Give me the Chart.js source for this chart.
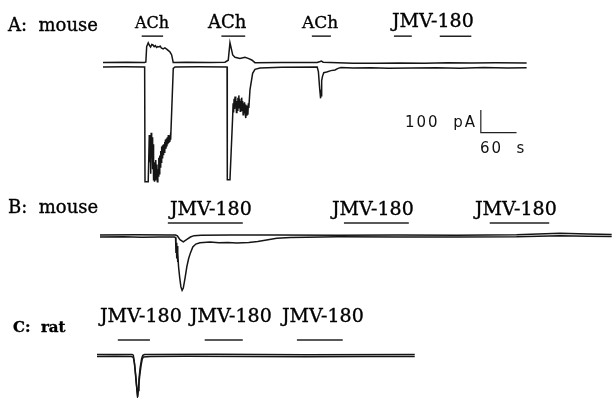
<!DOCTYPE html>
<html lang="en">
<head>
  <meta charset="UTF-8">
  <title>JMV-180 / ACh currents</title>
  <style>
    html, body {
      margin: 0;
      padding: 0;
      background: #fff;
    }
    #wrap {
      position: relative;
      width: 612px;
      height: 398px;
    }
    #chart {
      position: absolute;
      left: 0;
      top: 0;
    }
    .lbl {
      position: absolute;
      font-family: "DejaVu Serif", serif;
      color: #000;
      white-space: pre;
      line-height: 1;
      -webkit-text-stroke: 0.35px #000;
    }
    .sans {
      font-family: "DejaVu Sans", sans-serif;
      letter-spacing: 2px;
      -webkit-text-stroke: 0;
      color: #111;
    }
  </style>
  <script src="https://cdn.jsdelivr.net/npm/chart.js"></script>
</head>
<body>
  <div id="wrap">
    <canvas id="chart" width="612" height="398"></canvas>

    <div class="lbl" style="left:8px; top:16px; font-size:18px;">A:  mouse</div>
    <div class="lbl" style="left:135px; top:14.5px; font-size:16px;">ACh</div>
    <div class="lbl" style="left:208px; top:12.8px; font-size:18px;">ACh</div>
    <div class="lbl" style="left:302px; top:13.6px; font-size:17px;">ACh</div>
    <div class="lbl" style="left:392px; top:10.9px; font-size:19px;">JMV-180</div>
    <div class="lbl sans" style="left:405px; top:115.3px; font-size:15px;">100  pA</div>
    <div class="lbl sans" style="left:480px; top:141.3px; font-size:15px;">60  s</div>

    <div class="lbl" style="left:8px; top:198px; font-size:18px;">B:  mouse</div>
    <div class="lbl" style="left:170px; top:198.9px; font-size:19px;">JMV-180</div>
    <div class="lbl" style="left:332px; top:198.9px; font-size:19px;">JMV-180</div>
    <div class="lbl" style="left:475px; top:198.9px; font-size:19px;">JMV-180</div>

    <div class="lbl" style="left:13px; top:320.3px; font-size:15px; font-weight:bold;">C:  rat</div>
    <div class="lbl" style="left:100px; top:305.9px; font-size:19px;">JMV-180</div>
    <div class="lbl" style="left:190px; top:305.9px; font-size:19px;">JMV-180</div>
    <div class="lbl" style="left:282px; top:305.9px; font-size:19px;">JMV-180</div>
  </div>

  <script>
    // membrane current traces, [time (s), current (pA)] from start of each record
    const traceA_upper = [
      [0, 20], [40, 21], [70, 20], [72, 22], [73.4, 90], [76, 106], [78, 95], [80, 88],
      [82, 99], [84, 97], [86, 90], [88, 94], [90, 86], [92, 90], [94, 88], [96, 92],
      [98, 84], [101, 80], [104, 84], [107, 79], [110, 72], [112.6, 66], [115.4, 53],
      [118, 20], [140, 21], [180, 20], [205, 21], [210.5, 30], [213.4, 107], [218, 53],
      [221.8, 43], [230.2, 38], [238.6, 43], [244, 38], [250, 31], [255.4, 19],
      [300, 20], [360, 20], [365, 24], [367, 26], [370, 21], [420, 17], [460, 16],
      [500, 18], [540, 17], [580, 19], [620, 18], [660, 19], [712, 18]
    ];
    const traceA_lower = [
      [0, 0], [35, 1], [70, 0], [70.6, -505], [76, -505], [77.8, -300], [78.6, -420],
      [79.4, -330], [80.2, -470], [81, -290], [81.8, -400], [82.6, -310], [83.4, -450],
      [84.2, -340], [85, -500], [85.8, -420], [86.6, -505], [87.4, -440], [88.2, -500],
      [89, -410], [89.8, -490], [90.6, -430], [91.4, -505], [92.2, -450], [93, -480],
      [93.8, -400], [94.6, -470], [95.4, -390], [96.2, -440], [97, -370], [97.8, -420],
      [98.6, -350], [99.4, -400], [100.2, -345], [101, -385], [101.8, -340],
      [102.6, -375], [103.4, -330], [104.2, -370], [105, -320], [105.8, -360],
      [106.6, -315], [107.4, -350], [108.2, -310], [109, -340], [109.8, -300],
      [110.6, -335], [111.4, -305], [112.2, -330], [113, -310], [113.7, -320],
      [118.1, -6], [121, 0], [160, 1], [208.5, 0],
      [208.9, -497], [213.4, -497], [217.9, -219], [218.7, -160], [219.5, -200],
      [220.3, -140], [221.1, -185], [221.9, -130], [222.7, -175], [223.5, -145],
      [224.3, -200], [225.1, -150], [225.9, -190], [226.7, -135], [227.5, -170],
      [228.3, -125], [229.1, -180], [229.9, -140], [230.7, -195], [231.5, -150],
      [232.3, -175], [233.1, -135], [233.9, -190], [234.7, -150], [235.5, -210],
      [236.3, -160], [237.1, -200], [237.9, -155], [238.7, -190], [239.5, -165],
      [240.3, -225], [241.1, -170], [241.9, -215], [242.7, -175], [243.5, -210],
      [244.3, -160], [245.1, -180], [247, -101], [251.5, -28],
      [255.4, -10], [263.8, -4], [300, -1], [360, 0], [362, -20], [364, -90],
      [365.7, -138], [366.4, -100], [367, -130], [368, -60], [369, -40], [371, -25],
      [376, -22], [383, -16], [390, -13], [395, -6], [400, -2], [420, -4], [450, -3],
      [480, -6], [520, -4], [560, -3], [600, -5], [640, -2], [680, -4], [712, -3]
    ];
    const traceB_upper = [
      [0, 9], [60, 10], [120, 9], [127, 9], [130, 5], [134.4, -12], [140, -21],
      [146, -10], [152, 0], [158, 6], [170, 8], [220, 9], [300, 9], [400, 8],
      [500, 9], [600, 8], [700, 10], [773, 16], [820, 13], [860, 11]
    ];
    const traceB_lower = [
      [0, 0], [40, 1], [70, -1], [100, 0], [125, 0], [127, -2], [127.7, -70],
      [128.3, -25], [129, -95], [129.6, -40], [130.3, -110], [131, -70], [132, -130],
      [134, -180], [136, -220], [138, -235], [140, -225], [143, -180], [146, -130],
      [149, -95], [152, -70], [156, -44], [161, -31], [168, -25], [185, -22],
      [200, -25], [215, -24], [230, -26], [250, -24], [265, -20], [280, -13],
      [297, -6], [320, -2], [400, 1], [500, 0], [600, 0], [700, 1], [773, 6],
      [820, 3], [860, 2]
    ];
    const traceC_upper = [
      [0, 9], [59, 9], [61, 6], [62.5, -20], [64, -60], [66, -120], [68, -172],
      [69, -150], [70.5, -100], [72.5, -50], [75, -10], [77, 5], [80, 9],
      [200, 10], [350, 8], [534, 9]
    ];
    const traceC_lower = [
      [0, 0], [30, 1], [58, 0], [61, -4], [63, -30], [65, -80], [67, -140],
      [68.4, -178], [70, -130], [72, -80], [74, -40], [76, -12], [78, -2],
      [90, 0], [150, 1], [250, 0], [350, -1], [450, 0], [534, 0]
    ];

    // drug application periods [start, end] in s
    const appA = [[65, 101], [199, 239], [351, 383], [489, 519], [566, 619]];
    const appB = [[114, 240], [410, 519], [655, 755]];
    const appC = [[35, 89], [181, 245], [336, 413]];

    // calibration: [s, pA]
    const calib = [60, 100];

    // ---- layout: pixel mapping of each record ----
    const W = 612, H = 398;
    const sPerPx = 60 / 35.7;
    const pAPerPx = 100 / 22.7;
    // origin pixel (x of t=0, y of 0 pA) and bar height above baseline (pA)
    const panels = {
      A: { x0: 103, y0: 67, bar: 136 },
      B: { x0: 100, y0: 237, bar: 62 },
      C: { x0: 97, y0: 356.5, bar: 73 }
    };

    const scales = {};
    Object.keys(panels).forEach(function (k) {
      const p = panels[k];
      scales['x' + k] = { type: 'linear', display: false,
        min: -p.x0 * sPerPx, max: (W - p.x0) * sPerPx };
      scales['y' + k] = { type: 'linear', display: false,
        min: -(H - p.y0) * pAPerPx, max: p.y0 * pAPerPx };
    });

    function pts(arr) {
      return arr.map(function (d) { return { x: d[0], y: d[1] }; });
    }

    const datasets = [];
    function addTrace(arr, k) {
      datasets.push({
        data: pts(arr), xAxisID: 'x' + k, yAxisID: 'y' + k,
        borderColor: '#151515', borderWidth: 1.5
      });
    }
    function addBars(apps, k) {
      apps.forEach(function (a) {
        datasets.push({
          data: [{ x: a[0], y: panels[k].bar }, { x: a[1], y: panels[k].bar }],
          xAxisID: 'x' + k, yAxisID: 'y' + k,
          borderColor: '#222', borderWidth: 1.5
        });
      });
    }

    addTrace(traceA_upper, 'A');
    addTrace(traceA_lower, 'A');
    addTrace(traceB_upper, 'B');
    addTrace(traceB_lower, 'B');
    addTrace(traceC_upper, 'C');
    addTrace(traceC_lower, 'C');
    addBars(appA, 'A');
    addBars(appB, 'B');
    addBars(appC, 'C');

    // calibration bar, hung under the A record
    const cx = 635, cy = -289;
    datasets.push({
      data: [{ x: cx, y: cy + calib[1] }, { x: cx, y: cy }, { x: cx + calib[0], y: cy }],
      xAxisID: 'xA', yAxisID: 'yA',
      borderColor: '#222', borderWidth: 1.2
    });

    new Chart(document.getElementById('chart'), {
      type: 'line',
      data: { datasets: datasets },
      options: {
        responsive: false,
        animation: false,
        layout: { padding: 0 },
        elements: {
          point: { radius: 0, hoverRadius: 0 },
          line: { tension: 0, fill: false }
        },
        plugins: { legend: { display: false }, tooltip: { enabled: false } },
        scales: scales
      }
    });
  </script>
</body>
</html>
